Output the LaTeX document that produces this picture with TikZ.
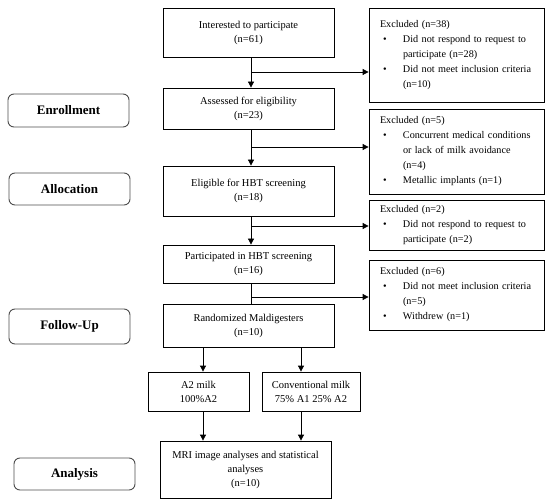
\documentclass[tikz,border=0pt]{standalone}
\usepackage{fontspec}
\setmainfont{Liberation Serif}
\usetikzlibrary{arrows.meta}
\begin{document}
\begin{tikzpicture}[x=1pt,y=-1pt,
  box/.style={draw, line width=0.8pt, inner sep=0pt, align=center,
    font=\fontsize{10.5}{14}\selectfont},
  rbox/.style={draw, line width=0.8pt, inner xsep=11pt, inner ysep=0pt,
    text width=153pt, align=left, minimum width=175pt,
    font=\fontsize{10.2}{15}\selectfont},
  lbl/.style={draw=black!70, line width=0.9pt, rounded corners=6pt,
    minimum width=121pt, inner sep=0pt, font=\fontsize{13}{15}\selectfont\bfseries},
  arr/.style={line width=0.8pt, -{Triangle[length=6pt,width=6pt]}},
  ln/.style={line width=0.8pt}]
\useasboundingbox (0,0) rectangle (550,503);
\newcommand{\bul}[1]{\mbox{\hspace*{3pt}\makebox[20pt][l]{\textbullet}#1}}
\newcommand{\ind}[1]{\mbox{\hspace*{23pt}#1}}
% main column
\node[box, minimum width=171pt, minimum height=49pt] (b1) at (248.5,32.5) {Interested to participate\\(n=61)};
\node[box, minimum width=171pt, minimum height=41pt] (b2) at (248.5,108.5) {Assessed for eligibility\\(n=23)};
\node[box, minimum width=171pt, minimum height=50pt] (b3) at (248.5,191) {Eligible for HBT screening\\(n=18)};
\node[box, minimum width=171pt, minimum height=38pt] (b4) at (248.5,264) {Participated in HBT screening\\(n=16)};
\node[box, minimum width=171pt, minimum height=43pt] (b5) at (248.5,325.5) {Randomized Maldigesters\\(n=10)};
\node[box, minimum width=101pt, minimum height=39pt] (a2) at (198.5,391.5) {A2 milk\\100\%A2};
\node[box, minimum width=98pt, minimum height=39pt] (cv) at (311,391.5) {Conventional milk\\75\% A1 25\% A2};
\node[box, minimum width=171pt, minimum height=57pt] (mri) at (245.5,469.5) {MRI image analyses and statistical\\analyses\\(n=10)};
% exclusion boxes
\node[rbox, minimum height=94pt] (r1) at (456.5,55) {Excluded (n=38)\\\bul{Did not respond to request to}\\\ind{participate (n=28)}\\\bul{Did not meet inclusion criteria}\\\ind{(n=10)}};
\node[rbox, minimum height=85pt] (r2) at (456.5,151.5) {Excluded (n=5)\\\bul{Concurrent medical conditions}\\\ind{or lack of milk avoidance}\\\ind{(n=4)}\\\bul{Metallic implants (n=1)}};
\node[rbox, minimum height=50pt] (r3) at (456.5,225) {Excluded (n=2)\\\bul{Did not respond to request to}\\\ind{participate (n=2)}};
\node[rbox, minimum height=70pt] (r4) at (456.5,295) {Excluded (n=6)\\\bul{Did not meet inclusion criteria}\\\ind{(n=5)}\\\bul{Withdrew (n=1)}};
% stage labels
\node[lbl, minimum height=33pt] (enr) at (68.5,110.5) {Enrollment};
\node[lbl, minimum height=32pt] (alc) at (69.5,189) {Allocation};
\node[lbl, minimum height=35pt] (fol) at (69.5,326.5) {Follow-Up};
\node[lbl, minimum height=32pt] (ana) at (74.5,474) {Analysis};
% connectors
\coordinate (X) at (251,0);
\coordinate (j1) at (251,72);
\coordinate (j2) at (251,147);
\coordinate (j3) at (251,226);
\coordinate (j4) at (251,297);
\coordinate (c1) at (203,0);
\coordinate (c2) at (301,0);
\draw[arr] (X |- b1.south) -- (X |- b2.north);
\draw[arr] (X |- b2.south) -- (X |- b3.north);
\draw[arr] (X |- b3.south) -- (X |- b4.north);
\draw[ln] (X |- b4.south) -- (X |- b5.north);
\draw[arr] (j1) -- (j1 -| r1.west);
\draw[arr] (j2) -- (j2 -| r2.west);
\draw[arr] (j3) -- (j3 -| r3.west);
\draw[arr] (j4) -- (j4 -| r4.west);
\draw[arr] (c1 |- b5.south) -- (c1 |- a2.north);
\draw[arr] (c2 |- b5.south) -- (c2 |- cv.north);
\draw[arr] (c1 |- a2.south) -- (c1 |- mri.north);
\draw[arr] (c2 |- cv.south) -- (c2 |- mri.north);
\end{tikzpicture}
\end{document}
